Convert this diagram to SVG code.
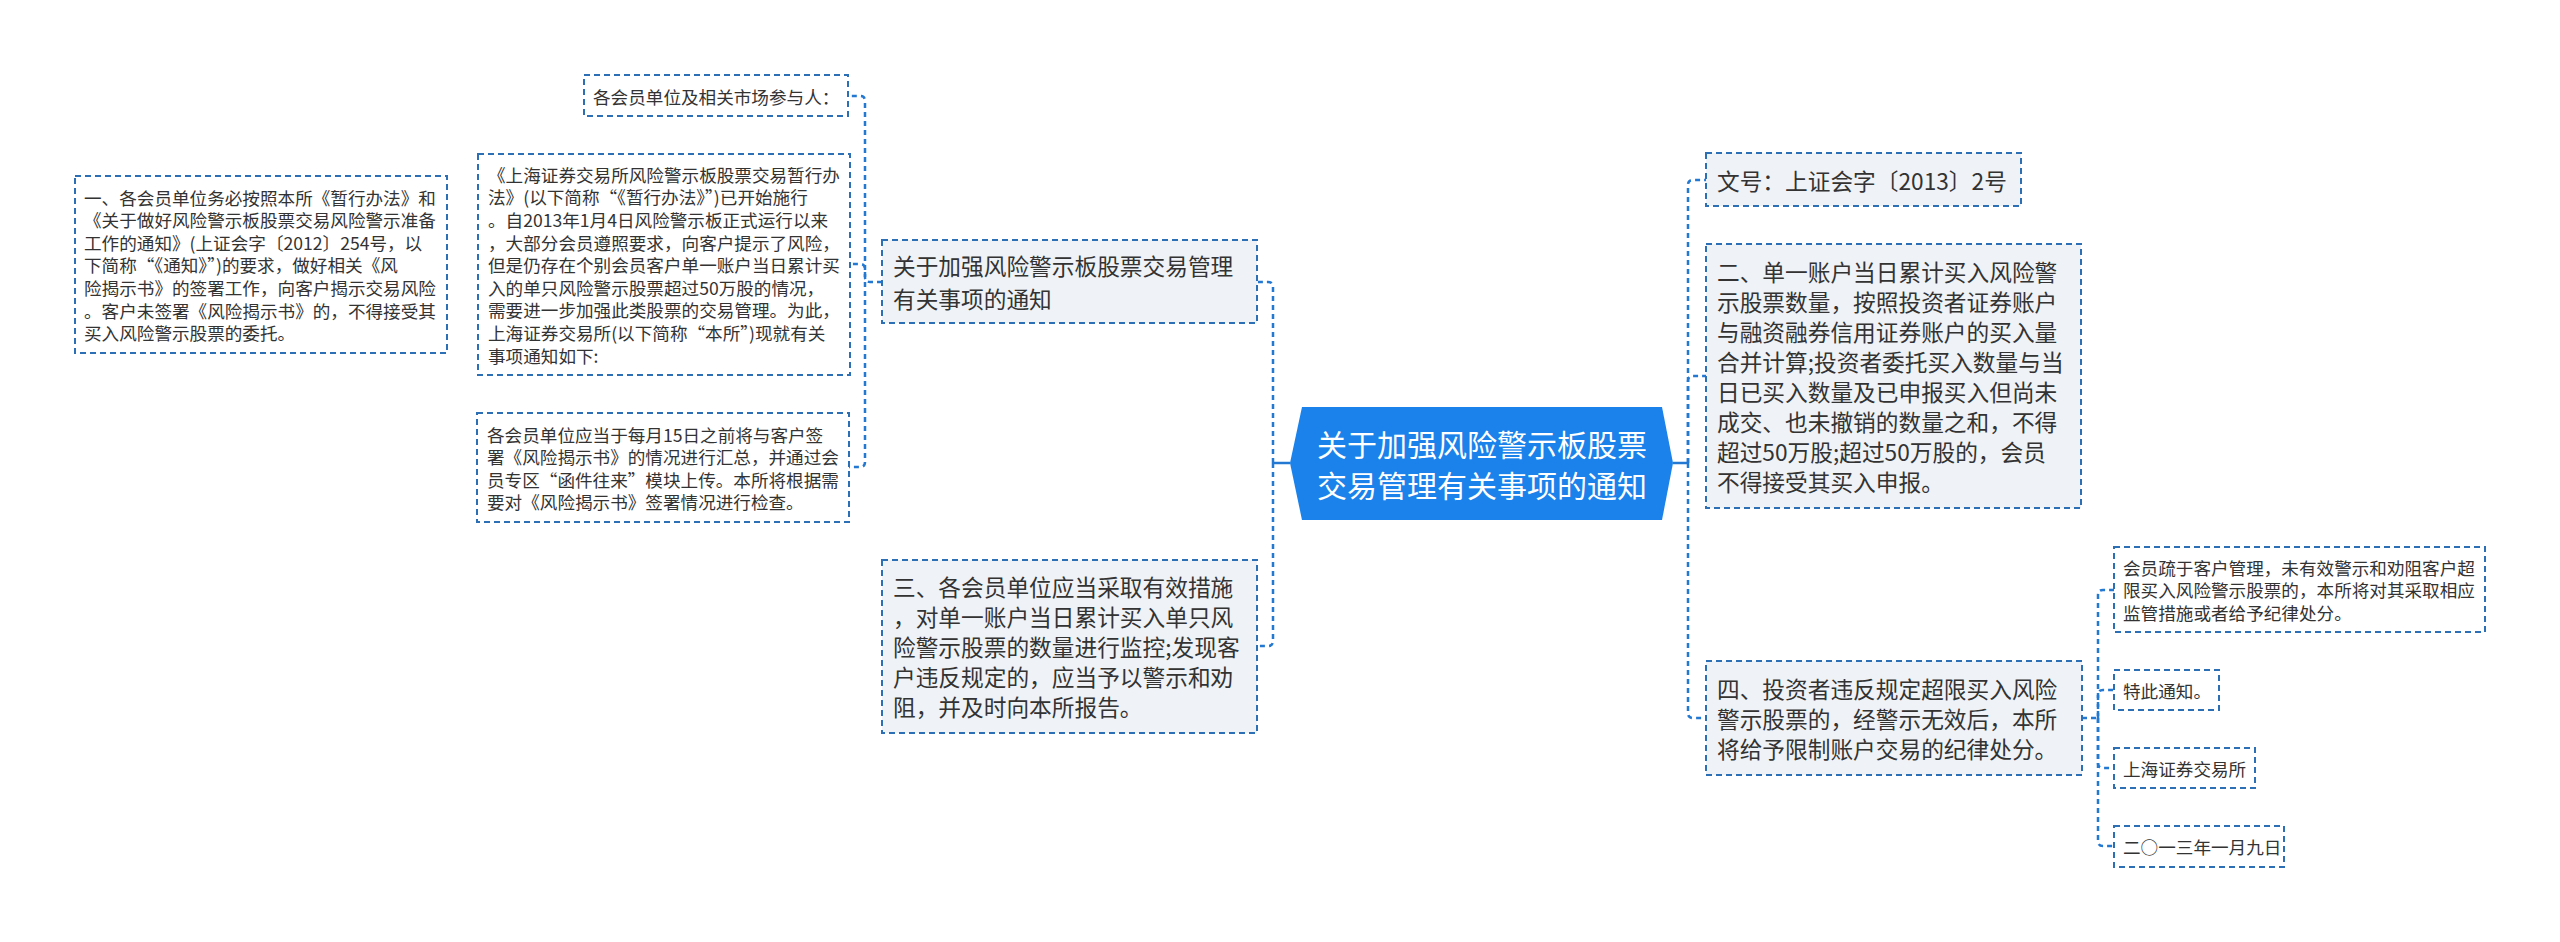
<svg xmlns="http://www.w3.org/2000/svg" width="2560" height="942" viewBox="0 0 2560 942">
<style>
.bx{fill:#ffffff;stroke:#2d6fb5;stroke-width:2;stroke-dasharray:6 4}
.bg{fill:#eff2f6;stroke:#2d6fb5;stroke-width:2;stroke-dasharray:6 4}
.t{font-family:"Microsoft YaHei","Noto Sans CJK SC","Noto Sans",sans-serif;fill:#333333;dominant-baseline:central}
.s{font-size:17.6px}
.m{font-size:22.7px}
.r{font-family:"Microsoft YaHei","Noto Sans CJK SC","Noto Sans",sans-serif;fill:#ffffff;font-size:30px;dominant-baseline:central;text-anchor:middle}
.c{fill:none;stroke:#2378d2;stroke-width:2.5;stroke-dasharray:5 4}
.cs{fill:none;stroke:#2378d2;stroke-width:2.5}
</style>
<rect width="2560" height="942" fill="#ffffff"/>
<g id="connectors">
<path class="cs" d="M1290,463 H1273"/>
<path class="c" d="M1273,463 V287 Q1273,282 1268,282 H1257"/>
<path class="c" d="M1273,463 V641 Q1273,646 1268,646 H1257"/>
<path class="c" d="M882,282 H870 Q865,282 865,277 V101 Q865,96 860,96 H848"/>
<path class="c" d="M865,277 V269 Q865,264 860,264 H850"/>
<path class="c" d="M865,282 V462 Q865,467 860,467 H849"/>
<path class="cs" d="M1673,463 H1688"/>
<path class="c" d="M1688,463 V185 Q1688,180 1693,180 H1706"/>
<path class="c" d="M1688,463 V381 Q1688,376 1693,376 H1706"/>
<path class="c" d="M1688,463 V713 Q1688,718 1693,718 H1706"/>
<path class="c" d="M2082,718 H2098 V595 Q2098,590 2103,590 H2114"/>
<path class="c" d="M2098,718 V695 Q2098,690 2103,690 H2114"/>
<path class="c" d="M2098,718 V763 Q2098,768 2103,768 H2114"/>
<path class="c" d="M2098,718 V841 Q2098,846 2103,846 H2114"/>
</g>
<g id="root">
<polygon points="1302,407 1662,407 1673,463 1662,520 1302,520 1290,463" fill="#1a82ea"/>
<text class="r" x="1482" y="443">关于加强风险警示板股票</text>
<text class="r" x="1482" y="484">交易管理有关事项的通知</text>
</g>
<g id="nodeE">
<rect class="bg" x="882" y="240" width="375" height="83"/>
<text class="t m" x="893" y="265">关于加强风险警示板股票交易管理</text>
<text class="t m" x="893" y="298">有关事项的通知</text>
</g>
<g id="nodeF">
<rect class="bg" x="882" y="560" width="375" height="173"/>
<text class="t m" x="893" y="586.5">三、各会员单位应当采取有效措施</text>
<text class="t m" x="893" y="616.5">，对单一账户当日累计买入单只风</text>
<text class="t m" x="893" y="646.5">险警示股票的数量进行监控;发现客</text>
<text class="t m" x="893" y="676.5">户违反规定的，应当予以警示和劝</text>
<text class="t m" x="893" y="706.5">阻，并及时向本所报告。</text>
</g>
<g id="nodeA">
<rect class="bx" x="584" y="75" width="264" height="41"/>
<text class="t s" x="593" y="96">各会员单位及相关市场参与人：</text>
</g>
<g id="nodeB">
<rect class="bx" x="75" y="176" width="372" height="177"/>
<text class="t s" x="84" y="197">一、各会员单位务必按照本所《暂行办法》和</text>
<text class="t s" x="84" y="219.6">《关于做好风险警示板股票交易风险警示准备</text>
<text class="t s" x="84" y="242.2">工作的通知》(上证会字〔2012〕254号，以</text>
<text class="t s" x="84" y="264.8">下简称“《通知》”)的要求，做好相关《风</text>
<text class="t s" x="84" y="287.4">险揭示书》的签署工作，向客户揭示交易风险</text>
<text class="t s" x="84" y="310">。客户未签署《风险揭示书》的，不得接受其</text>
<text class="t s" x="84" y="332.6">买入风险警示股票的委托。</text>
</g>
<g id="nodeC">
<rect class="bx" x="478" y="154" width="372" height="221"/>
<text class="t s" x="488" y="174.3">《上海证券交易所风险警示板股票交易暂行办</text>
<text class="t s" x="488" y="196.9">法》(以下简称“《暂行办法》”)已开始施行</text>
<text class="t s" x="488" y="219.5">。自2013年1月4日风险警示板正式运行以来</text>
<text class="t s" x="488" y="242.1">，大部分会员遵照要求，向客户提示了风险，</text>
<text class="t s" x="488" y="264.7">但是仍存在个别会员客户单一账户当日累计买</text>
<text class="t s" x="488" y="287.3">入的单只风险警示股票超过50万股的情况，</text>
<text class="t s" x="488" y="309.9">需要进一步加强此类股票的交易管理。为此，</text>
<text class="t s" x="488" y="332.5">上海证券交易所(以下简称“本所”)现就有关</text>
<text class="t s" x="488" y="355.1">事项通知如下:</text>
</g>
<g id="nodeD">
<rect class="bx" x="477" y="413" width="372" height="109"/>
<text class="t s" x="487" y="434">各会员单位应当于每月15日之前将与客户签</text>
<text class="t s" x="487" y="456.6">署《风险揭示书》的情况进行汇总，并通过会</text>
<text class="t s" x="487" y="479.2">员专区“函件往来”模块上传。本所将根据需</text>
<text class="t s" x="487" y="501.8">要对《风险揭示书》签署情况进行检查。</text>
</g>
<g id="nodeG">
<rect class="bg" x="1706" y="153" width="315" height="53"/>
<text class="t m" x="1717" y="180">文号：上证会字〔2013〕2号</text>
</g>
<g id="nodeH">
<rect class="bg" x="1706" y="244" width="375" height="264"/>
<text class="t m" x="1717" y="271">二、单一账户当日累计买入风险警</text>
<text class="t m" x="1717" y="301">示股票数量，按照投资者证券账户</text>
<text class="t m" x="1717" y="331">与融资融券信用证券账户的买入量</text>
<text class="t m" x="1717" y="361">合并计算;投资者委托买入数量与当</text>
<text class="t m" x="1717" y="391">日已买入数量及已申报买入但尚未</text>
<text class="t m" x="1717" y="421">成交、也未撤销的数量之和，不得</text>
<text class="t m" x="1717" y="451">超过50万股;超过50万股的，会员</text>
<text class="t m" x="1717" y="481">不得接受其买入申报。</text>
</g>
<g id="nodeI">
<rect class="bg" x="1706" y="661" width="376" height="114"/>
<text class="t m" x="1717" y="688">四、投资者违反规定超限买入风险</text>
<text class="t m" x="1717" y="718">警示股票的，经警示无效后，本所</text>
<text class="t m" x="1717" y="748">将给予限制账户交易的纪律处分。</text>
</g>
<g id="nodeJ">
<rect class="bx" x="2114" y="547" width="371" height="85"/>
<text class="t s" x="2123" y="567">会员疏于客户管理，未有效警示和劝阻客户超</text>
<text class="t s" x="2123" y="589.6">限买入风险警示股票的，本所将对其采取相应</text>
<text class="t s" x="2123" y="612.2">监管措施或者给予纪律处分。</text>
</g>
<g id="nodeK">
<rect class="bx" x="2114" y="670" width="105" height="40"/>
<text class="t s" x="2123" y="690">特此通知。</text>
</g>
<g id="nodeL">
<rect class="bx" x="2114" y="748" width="141" height="40"/>
<text class="t s" x="2123" y="768">上海证券交易所</text>
</g>
<g id="nodeM">
<rect class="bx" x="2114" y="826" width="170" height="41"/>
<text class="t s" x="2123" y="846.5">二○一三年一月九日</text>
</g>
</svg>
